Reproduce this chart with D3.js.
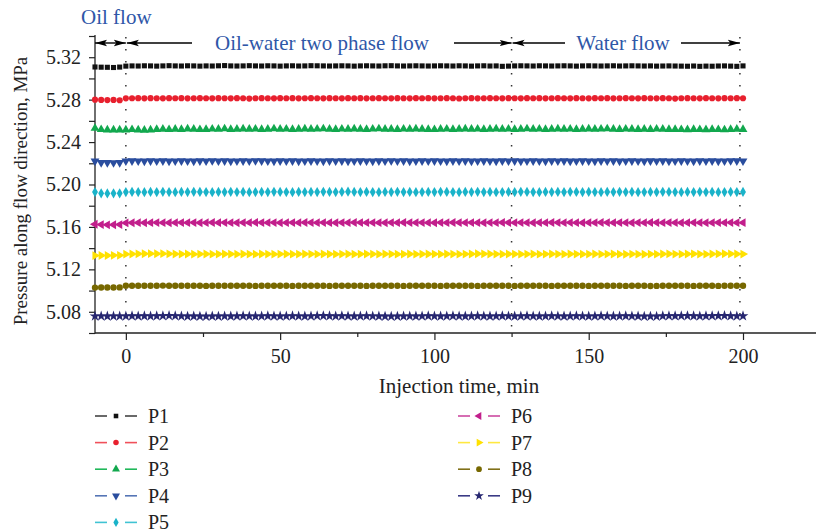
<!DOCTYPE html>
<html>
<head>
<meta charset="utf-8">
<script src="https://cdn.jsdelivr.net/npm/d3@7"></script>
<style>
  body { margin: 0; background: #fff; }
  svg { display: block; }
  text { font-family: "Liberation Serif", "DejaVu Serif", serif; }
</style>
</head>
<body>
<div id="chart"></div>
<script>
// time points, min (one reading every 2 min)
const times = d3.range(-10, 201, 2);

// pressure readings, MPa (first 5 = oil flow, then 0..200 min)
const p1 = [5.3108,5.3106,5.3105,5.3103,5.3107,
  5.3116,5.3118,5.3117,5.3119,5.3118,5.3116,5.3118,5.3120,5.3118,5.3117,
  5.3119,5.3118,5.3116,5.3118,5.3117,5.3119,5.3121,5.3118,5.3117,5.3118,
  5.3120,5.3118,5.3117,5.3119,5.3118,5.3116,5.3118,5.3119,5.3117,5.3118,
  5.3120,5.3119,5.3118,5.3117,5.3118,5.3119,5.3118,5.3116,5.3118,5.3119,
  5.3118,5.3117,5.3119,5.3120,5.3118,5.3117,5.3118,5.3119,5.3118,5.3117,
  5.3118,5.3119,5.3118,5.3117,5.3119,5.3118,5.3116,5.3118,5.3119,5.3117,
  5.3118,5.3114,5.3116,5.3118,5.3119,5.3118,5.3117,5.3119,5.3118,5.3117,
  5.3118,5.3119,5.3118,5.3116,5.3118,5.3119,5.3118,5.3117,5.3118,5.3119,
  5.3117,5.3118,5.3119,5.3118,5.3117,5.3118,5.3116,5.3117,5.3118,5.3117,
  5.3116,5.3115,5.3117,5.3114,5.3116,5.3115,5.3117,5.3118,5.3116,5.3114,
  5.3118];
const p2 = [5.2800,5.2797,5.2796,5.2797,5.2794,
  5.2812,5.2813,5.2814,5.2812,5.2814,5.2813,5.2812,5.2814,5.2813,5.2814,
  5.2812,5.2813,5.2814,5.2813,5.2812,5.2814,5.2813,5.2812,5.2814,5.2813,
  5.2810,5.2813,5.2814,5.2813,5.2812,5.2814,5.2813,5.2814,5.2812,5.2813,
  5.2814,5.2813,5.2812,5.2814,5.2813,5.2812,5.2814,5.2813,5.2814,5.2812,
  5.2813,5.2814,5.2813,5.2812,5.2814,5.2813,5.2812,5.2814,5.2813,5.2814,
  5.2812,5.2813,5.2814,5.2813,5.2811,5.2813,5.2814,5.2812,5.2813,5.2814,
  5.2813,5.2812,5.2814,5.2813,5.2812,5.2814,5.2813,5.2814,5.2812,5.2813,
  5.2814,5.2813,5.2812,5.2814,5.2813,5.2812,5.2814,5.2813,5.2814,5.2812,
  5.2813,5.2814,5.2813,5.2812,5.2814,5.2813,5.2812,5.2814,5.2813,5.2810,
  5.2813,5.2814,5.2813,5.2812,5.2814,5.2813,5.2812,5.2814,5.2813,5.2814,
  5.2813];
const p3 = [5.2530,5.2518,5.2514,5.2515,5.2514,
  5.2515,5.2518,5.2514,5.2513,5.2515,5.2519,5.2521,5.2518,5.2522,5.2520,
  5.2524,5.2521,5.2518,5.2520,5.2523,5.2521,5.2525,5.2520,5.2522,5.2524,
  5.2521,5.2523,5.2520,5.2522,5.2525,5.2521,5.2523,5.2520,5.2522,5.2524,
  5.2521,5.2523,5.2525,5.2522,5.2520,5.2523,5.2521,5.2524,5.2522,5.2520,
  5.2523,5.2525,5.2521,5.2522,5.2520,5.2523,5.2521,5.2524,5.2522,5.2520,
  5.2518,5.2521,5.2523,5.2520,5.2522,5.2524,5.2521,5.2523,5.2520,5.2522,
  5.2524,5.2521,5.2523,5.2520,5.2522,5.2525,5.2521,5.2523,5.2520,5.2522,
  5.2524,5.2521,5.2523,5.2520,5.2522,5.2524,5.2521,5.2523,5.2525,5.2522,
  5.2520,5.2523,5.2521,5.2519,5.2522,5.2520,5.2523,5.2521,5.2519,5.2520,
  5.2518,5.2517,5.2519,5.2518,5.2517,5.2519,5.2518,5.2516,5.2520,5.2522,
  5.2520];
const p4 = [5.2220,5.2207,5.2206,5.2205,5.2206,
  5.2222,5.2223,5.2222,5.2221,5.2223,5.2222,5.2223,5.2221,5.2222,5.2223,
  5.2222,5.2221,5.2223,5.2222,5.2224,5.2222,5.2223,5.2221,5.2222,5.2223,
  5.2222,5.2224,5.2223,5.2222,5.2221,5.2223,5.2222,5.2223,5.2221,5.2222,
  5.2223,5.2222,5.2221,5.2223,5.2222,5.2223,5.2221,5.2222,5.2223,5.2222,
  5.2221,5.2223,5.2222,5.2224,5.2222,5.2223,5.2221,5.2222,5.2223,5.2222,
  5.2223,5.2222,5.2221,5.2223,5.2222,5.2223,5.2221,5.2222,5.2223,5.2222,
  5.2221,5.2223,5.2222,5.2223,5.2221,5.2222,5.2223,5.2222,5.2221,5.2223,
  5.2222,5.2223,5.2221,5.2222,5.2223,5.2222,5.2221,5.2223,5.2222,5.2223,
  5.2221,5.2222,5.2223,5.2222,5.2221,5.2223,5.2222,5.2223,5.2221,5.2222,
  5.2223,5.2222,5.2221,5.2223,5.2222,5.2223,5.2221,5.2222,5.2224,5.2223,
  5.2222];
const p5 = [5.1929,5.1917,5.1916,5.1917,5.1917,
  5.1929,5.1930,5.1929,5.1928,5.1930,5.1929,5.1931,5.1929,5.1928,5.1930,
  5.1929,5.1931,5.1930,5.1929,5.1928,5.1930,5.1929,5.1931,5.1929,5.1930,
  5.1928,5.1929,5.1930,5.1929,5.1931,5.1930,5.1929,5.1928,5.1930,5.1929,
  5.1930,5.1929,5.1931,5.1930,5.1929,5.1930,5.1932,5.1930,5.1929,5.1930,
  5.1929,5.1928,5.1930,5.1929,5.1931,5.1929,5.1930,5.1928,5.1929,5.1930,
  5.1929,5.1931,5.1930,5.1929,5.1928,5.1930,5.1929,5.1931,5.1929,5.1930,
  5.1928,5.1929,5.1930,5.1929,5.1931,5.1930,5.1929,5.1928,5.1930,5.1929,
  5.1930,5.1929,5.1931,5.1930,5.1929,5.1930,5.1929,5.1928,5.1930,5.1929,
  5.1931,5.1929,5.1930,5.1928,5.1929,5.1930,5.1929,5.1931,5.1930,5.1929,
  5.1928,5.1930,5.1929,5.1931,5.1929,5.1930,5.1928,5.1929,5.1930,5.1929,
  5.1930];
const p6 = [5.1625,5.1622,5.1620,5.1621,5.1622,
  5.1638,5.1639,5.1640,5.1639,5.1640,5.1641,5.1640,5.1639,5.1640,5.1641,
  5.1640,5.1641,5.1639,5.1640,5.1642,5.1640,5.1641,5.1640,5.1639,5.1641,
  5.1640,5.1642,5.1641,5.1640,5.1641,5.1639,5.1640,5.1641,5.1640,5.1642,
  5.1641,5.1640,5.1641,5.1640,5.1639,5.1641,5.1640,5.1642,5.1641,5.1640,
  5.1641,5.1640,5.1639,5.1641,5.1640,5.1642,5.1641,5.1640,5.1641,5.1640,
  5.1639,5.1641,5.1640,5.1642,5.1641,5.1640,5.1641,5.1640,5.1639,5.1641,
  5.1640,5.1642,5.1641,5.1640,5.1641,5.1640,5.1639,5.1641,5.1640,5.1642,
  5.1641,5.1640,5.1641,5.1640,5.1639,5.1641,5.1640,5.1642,5.1641,5.1640,
  5.1641,5.1640,5.1639,5.1641,5.1640,5.1642,5.1641,5.1640,5.1641,5.1640,
  5.1639,5.1640,5.1641,5.1640,5.1639,5.1640,5.1641,5.1640,5.1641,5.1640,
  5.1640];
const p7 = [5.1330,5.1331,5.1331,5.1332,5.1332,
  5.1343,5.1345,5.1346,5.1347,5.1348,5.1347,5.1348,5.1346,5.1345,5.1344,
  5.1345,5.1343,5.1344,5.1345,5.1343,5.1344,5.1345,5.1344,5.1343,5.1345,
  5.1344,5.1343,5.1345,5.1344,5.1343,5.1344,5.1345,5.1343,5.1344,5.1345,
  5.1344,5.1343,5.1345,5.1344,5.1343,5.1344,5.1345,5.1343,5.1344,5.1345,
  5.1344,5.1343,5.1345,5.1344,5.1343,5.1344,5.1345,5.1343,5.1344,5.1345,
  5.1344,5.1343,5.1345,5.1344,5.1343,5.1344,5.1345,5.1347,5.1346,5.1345,
  5.1344,5.1343,5.1345,5.1344,5.1343,5.1344,5.1345,5.1343,5.1344,5.1345,
  5.1344,5.1343,5.1345,5.1344,5.1343,5.1344,5.1345,5.1343,5.1344,5.1345,
  5.1343,5.1342,5.1344,5.1343,5.1342,5.1344,5.1343,5.1345,5.1346,5.1344,
  5.1343,5.1345,5.1346,5.1344,5.1343,5.1345,5.1346,5.1347,5.1346,5.1345,
  5.1344];
const p8 = [5.1028,5.1029,5.1029,5.1029,5.1030,
  5.1045,5.1046,5.1045,5.1046,5.1045,5.1046,5.1047,5.1046,5.1045,5.1046,
  5.1045,5.1046,5.1045,5.1044,5.1045,5.1046,5.1045,5.1046,5.1045,5.1046,
  5.1045,5.1044,5.1045,5.1046,5.1045,5.1046,5.1045,5.1044,5.1045,5.1046,
  5.1045,5.1046,5.1045,5.1044,5.1045,5.1046,5.1045,5.1046,5.1045,5.1044,
  5.1045,5.1046,5.1045,5.1046,5.1045,5.1044,5.1045,5.1046,5.1045,5.1046,
  5.1045,5.1044,5.1045,5.1046,5.1045,5.1046,5.1045,5.1044,5.1045,5.1046,
  5.1045,5.1046,5.1045,5.1044,5.1045,5.1046,5.1045,5.1046,5.1045,5.1044,
  5.1045,5.1046,5.1045,5.1046,5.1045,5.1044,5.1045,5.1046,5.1045,5.1046,
  5.1045,5.1044,5.1045,5.1046,5.1045,5.1043,5.1044,5.1045,5.1046,5.1045,
  5.1046,5.1045,5.1044,5.1045,5.1046,5.1045,5.1044,5.1045,5.1046,5.1045,
  5.1045];
const p9 = [5.0759,5.0759,5.0758,5.0759,5.0759,
  5.0759,5.0760,5.0759,5.0760,5.0759,5.0760,5.0761,5.0763,5.0761,5.0759,
  5.0757,5.0758,5.0757,5.0756,5.0758,5.0757,5.0759,5.0758,5.0759,5.0760,
  5.0759,5.0758,5.0759,5.0760,5.0759,5.0758,5.0759,5.0760,5.0759,5.0758,
  5.0759,5.0761,5.0762,5.0760,5.0759,5.0760,5.0759,5.0758,5.0759,5.0760,
  5.0759,5.0758,5.0757,5.0756,5.0757,5.0758,5.0759,5.0758,5.0759,5.0760,
  5.0759,5.0758,5.0759,5.0760,5.0759,5.0758,5.0759,5.0760,5.0759,5.0758,
  5.0759,5.0760,5.0759,5.0758,5.0759,5.0760,5.0759,5.0758,5.0759,5.0760,
  5.0759,5.0758,5.0759,5.0760,5.0759,5.0758,5.0759,5.0760,5.0759,5.0758,
  5.0759,5.0760,5.0759,5.0758,5.0756,5.0757,5.0756,5.0760,5.0761,5.0760,
  5.0761,5.0762,5.0760,5.0759,5.0760,5.0761,5.0762,5.0763,5.0760,5.0759,
  5.0760];

const seriesNames = ["P1", "P2", "P3", "P4", "P5", "P6", "P7", "P8", "P9"];
const seriesValues = [p1, p2, p3, p4, p5, p6, p7, p8, p9];
const yTicks = [5.08, 5.12, 5.16, 5.20, 5.24, 5.28, 5.32];
const xTicks = [0, 50, 100, 150, 200];
const phaseBounds = [0, 125, 199];   // dotted separators, min

// marker look per series
const markColors = ["#111111", "#e8202e", "#12a84e", "#2a4d9e", "#1ab3c9", "#c21f8c", "#ffe100", "#776800", "#262670"];
const lineColors = ["#444444", "#f0505a", "#20b85a", "#5575b5", "#40c3d3", "#cc4aa0", "#ffe840", "#807018", "#3a3a85"];
const symTypes = [d3.symbolSquare, d3.symbolCircle, d3.symbolTriangle, d3.symbolTriangle, d3.symbolDiamond,
  d3.symbolTriangle, d3.symbolTriangle, d3.symbolCircle, d3.symbolStar];
const symRot = [0, 0, 0, 180, 0, -90, 90, 0, 0];
const symSize = [26, 30, 34, 34, 30, 34, 34, 32, 36];

const W = 816, H = 532;
const svg = d3.select("#chart").append("svg").attr("width", W).attr("height", H);

const x = d3.scaleLinear().domain([-10, 200]).range([95, 743]);
const y = d3.scaleLinear().domain([5.06, 5.34]).range([333, 36]);
const serif = '"Liberation Serif", serif';

// arrow heads for the phase annotation
const defs = svg.append("defs");
defs.append("marker")
  .attr("id", "arr")
  .attr("viewBox", "0 0 12 8")
  .attr("refX", 12).attr("refY", 4)
  .attr("markerWidth", 12).attr("markerHeight", 8)
  .attr("markerUnits", "userSpaceOnUse")
  .attr("orient", "auto-start-reverse")
  .append("path")
  .attr("d", "M0,0.8 L12,4 L0,7.2 L2.5,4 Z")
  .attr("fill", "#000");

// axes
const yAxis = svg.append("g").attr("transform", "translate(95,0)")
  .call(d3.axisLeft(y).tickValues(d3.range(5.06, 5.341, 0.02)).tickSize(6).tickFormat(""));
yAxis.select(".domain").remove();
yAxis.selectAll("line").attr("stroke", "#222").attr("stroke-width", 1.2);
const yLab = svg.append("g").attr("transform", "translate(95,0)")
  .call(d3.axisLeft(y).tickValues(yTicks).tickSize(0).tickPadding(14).tickFormat(d3.format(".2f")));
yLab.select(".domain").remove();
yLab.selectAll("text").attr("font-size", 20).attr("fill", "#222").style("font-family", serif);

const xAxis = svg.append("g").attr("transform", "translate(0,333)")
  .call(d3.axisBottom(x).tickValues(xTicks).tickSize(7).tickPadding(9).tickFormat(d3.format("d")));
xAxis.select(".domain").remove();
xAxis.selectAll("line").attr("stroke", "#222").attr("stroke-width", 1.2);
xAxis.selectAll("text").attr("font-size", 20).attr("fill", "#222").style("font-family", serif);
svg.append("g").attr("transform", "translate(0,333)")
  .call(d3.axisBottom(x).tickValues([25, 75, 125, 175]).tickSize(4).tickFormat(""))
  .call(g => g.select(".domain").remove())
  .selectAll("line").attr("stroke", "#222").attr("stroke-width", 1.2);

svg.append("line").attr("x1", 95).attr("x2", 95).attr("y1", 35).attr("y2", 333.5)
  .attr("stroke", "#222").attr("stroke-width", 1.3);
svg.append("line").attr("x1", 95).attr("x2", W).attr("y1", 333).attr("y2", 333)
  .attr("stroke", "#222").attr("stroke-width", 1.3);

svg.append("text").attr("x", 459).attr("y", 393).attr("text-anchor", "middle")
  .attr("font-size", 21).attr("fill", "#222").text("Injection time, min");
svg.append("text").attr("transform", "translate(27,191) rotate(-90)").attr("text-anchor", "middle")
  .attr("font-size", 19).attr("fill", "#222").text("Pressure along flow direction, MPa");

// dotted phase separators
svg.append("g").selectAll("line").data(phaseBounds).join("line")
  .attr("x1", d => x(d)).attr("x2", d => x(d))
  .attr("y1", 37).attr("y2", 330)
  .attr("stroke", "#333").attr("stroke-width", 1.5).attr("stroke-dasharray", "1.5,10.5");

// phase annotation
const annY = 43;
const segs = [
  [x(-10), x(0), true, true],
  [x(0) + 1, 192, true, false],
  [454, x(125), false, true],
  [x(125) + 1, 565, true, false],
  [681, x(199), false, true]
];
svg.append("g").selectAll("line").data(segs).join("line")
  .attr("x1", d => d[0]).attr("x2", d => d[1])
  .attr("y1", annY).attr("y2", annY)
  .attr("stroke", "#000").attr("stroke-width", 1.4)
  .attr("marker-start", d => d[2] ? "url(#arr)" : null)
  .attr("marker-end", d => d[3] ? "url(#arr)" : null);

const blue = "#2f57a8";
svg.append("text").attr("x", 81).attr("y", 24).attr("font-size", 21).attr("fill", blue).text("Oil flow");
svg.append("text").attr("x", 322).attr("y", 50).attr("text-anchor", "middle")
  .attr("font-size", 21).attr("fill", blue).text("Oil-water two phase flow");
svg.append("text").attr("x", 623).attr("y", 50).attr("text-anchor", "middle")
  .attr("font-size", 21).attr("fill", blue).text("Water flow");

// data points
const plot = svg.append("g");
seriesValues.forEach((vals, i) => {
  const sym = d3.symbol().type(symTypes[i]).size(symSize[i]);
  plot.append("g").selectAll("path").data(vals).join("path")
    .attr("d", sym)
    .attr("transform", (v, j) => `translate(${x(times[j])},${y(v)}) rotate(${symRot[i]})`)
    .attr("fill", markColors[i]);
});

// legend
const leg = svg.append("g");
seriesNames.forEach((name, i) => {
  const col = i < 5 ? 0 : 1;
  const row = i < 5 ? i : i - 5;
  const lx = col === 0 ? 95 : 458;
  const ly = 416 + row * 26.6;
  const g = leg.append("g").attr("transform", `translate(${lx},${ly})`);
  g.append("line").attr("x1", 0).attr("x2", 12).attr("stroke", lineColors[i]).attr("stroke-width", 1.6);
  g.append("line").attr("x1", 30).attr("x2", 42).attr("stroke", lineColors[i]).attr("stroke-width", 1.6);
  g.append("path").attr("d", d3.symbol().type(symTypes[i]).size(symSize[i] * 0.8))
    .attr("transform", `translate(21,0) rotate(${symRot[i]})`).attr("fill", markColors[i]);
  g.append("text").attr("x", 53).attr("y", 7).attr("font-size", 20).attr("fill", "#222").text(name);
});
</script>
</body>
</html>
